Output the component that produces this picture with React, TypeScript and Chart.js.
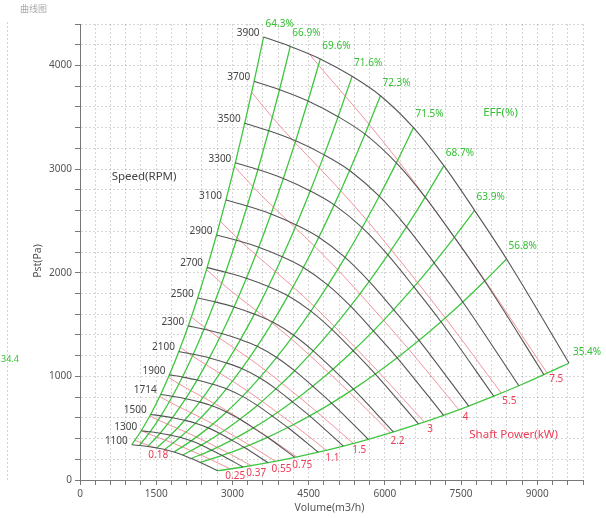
import React, { useEffect, useRef } from 'react';
import { Chart, registerables } from 'chart.js';

Chart.register(...registerables);

// ---- data ----
// fan speeds (rpm) of the drawn speed curves
const speeds = [1100, 1300, 1500, 1714, 1900, 2100, 2300, 2500, 2700, 2900, 3100, 3300, 3500, 3700, 3900];
const baseSpeed = 3900;
// 3900 rpm curve: volume (m3/h) and static pressure (Pa) where each efficiency line meets it
const baseVolume = [3613, 4139, 4730, 5355, 5913, 6563, 7161, 7766, 8396, 9624];
const basePressure = [4275, 4184, 4063, 3895, 3708, 3400, 3033, 2602, 2133, 1129];
const efficiencyLabels = ['64.3%', '66.9%', '69.6%', '71.6%', '72.3%', '71.5%', '68.7%', '63.9%', '56.8%', '35.4%'];
// shaft power (kW) at those 3900 rpm points
const baseShaftPower = [6.72, 7.19, 7.67, 8.09, 8.42, 8.67, 8.78, 8.78, 8.76, 8.6];
// constant shaft power lines (kW)
const shaftPowerLevels = [0.18, 0.25, 0.37, 0.55, 0.75, 1.1, 1.5, 2.2, 3, 4, 5.5, 7.5];
const shaftPowerLabels = ['0.18', '0.25', '0.37', '0.55', '0.75', '1.1', '1.5', '2.2', '3', '4', '5.5', '7.5'];
// axes
const xTickLabels = [0, 1500, 3000, 4500, 6000, 7500, 9000];
const yTickLabels = [0, 1000, 2000, 3000, 4000];
const xMinorStep = 300;
const yMinorStep = 200;
const xMax = 9900;
const yMax = 4400;

// ---- styles ----
const FONT = '"Noto Sans", "Open Sans", sans-serif';
const SPEED_COLOR = '#555555';
const GREEN = '#3fc63f';
const GREEN_TEXT = '#33c033';
const PINK = '#f2939d';
const RED_TEXT = '#ee3a55';
const powerLabelOffset: [number, number][] = [
  [-7, 7], [-5, 7], [-5, 8], [-4, 7.5], [-4.5, 8], [-1, 7.5], [-1, 7], [0, 8], [3, 7], [4, 7], [1, 8], [2, 6],
];

type P = { x: number; y: number };

// fan affinity: volume ~ n, pressure ~ n^2
const atScale = (i: number, s: number): P => ({ x: baseVolume[i] * s, y: basePressure[i] * s * s });

function speedCurve(n: number): P[] {
  const r = n / baseSpeed;
  return baseVolume.map((_, i) => atScale(i, r));
}

function effLine(i: number): P[] {
  return speeds.map((n) => atScale(i, n / baseSpeed));
}

function powerLine(w: number): P[] {
  const sMin = speeds[0] / baseSpeed;
  const pts: P[] = [];
  const s = baseShaftPower.map((pw) => Math.cbrt(w / pw));
  const inside = (v: number) => v >= sMin && v <= 1;
  for (let i = 0; i < s.length; i++) {
    if (inside(s[i])) pts.push(atScale(i, s[i]));
    if (i < s.length - 1) {
      const a = baseShaftPower[i], b = baseShaftPower[i + 1];
      // crossing of the top (3900 rpm) curve
      if ((s[i] > 1) !== (s[i + 1] > 1)) {
        const t = (w - a) / (b - a);
        pts.push({ x: baseVolume[i] + t * (baseVolume[i + 1] - baseVolume[i]), y: basePressure[i] + t * (basePressure[i + 1] - basePressure[i]) });
      }
      // crossing of the lowest speed curve
      if ((s[i] < sMin) !== (s[i + 1] < sMin)) {
        const k = sMin * sMin * sMin;
        const t = (w / k - a) / (b - a);
        pts.push({
          x: (baseVolume[i] + t * (baseVolume[i + 1] - baseVolume[i])) * sMin,
          y: (basePressure[i] + t * (basePressure[i + 1] - basePressure[i])) * sMin * sMin,
        });
      }
    }
  }
  return pts;
}

const range = (step: number, max: number) => {
  const out: { value: number }[] = [];
  for (let v = 0; v <= max + 1e-6; v += step) out.push({ value: v });
  return out;
};

const textPlugin = {
  id: 'fanText',
  afterDatasetsDraw(chart: any) {
    const ctx: CanvasRenderingContext2D = chart.ctx;
    const xs = chart.scales.x;
    const ys = chart.scales.y;
    const px = (p: P) => [xs.getPixelForValue(p.x), ys.getPixelForValue(p.y)];
    ctx.save();
    ctx.textBaseline = 'middle';

    // speed labels
    ctx.font = `10px ${FONT}`;
    ctx.fillStyle = '#444444';
    ctx.textAlign = 'right';
    speeds.forEach((n) => {
      const [x, y] = px(speedCurve(n)[0]);
      ctx.fillText(String(n), x - 4, y - 4);
    });

    // efficiency labels
    ctx.fillStyle = GREEN_TEXT;
    ctx.textAlign = 'left';
    efficiencyLabels.forEach((t, i) => {
      const [x, y] = px(atScale(i, 1));
      if (i === efficiencyLabels.length - 1) ctx.fillText(t, x + 4, y - 11);
      else ctx.fillText(t, x + 2, y - 13);
    });

    // shaft power labels
    ctx.fillStyle = RED_TEXT;
    shaftPowerLevels.forEach((w, i) => {
      const pts = powerLine(w);
      const [x, y] = px(pts[pts.length - 1]);
      const [dx, dy] = powerLabelOffset[i];
      ctx.fillText(shaftPowerLabels[i], x + dx, y + dy);
    });

    // group titles
    ctx.font = `11.5px ${FONT}`;
    ctx.textAlign = 'center';
    ctx.fillStyle = '#444444';
    ctx.fillText('Speed(RPM)', xs.getPixelForValue(1261), ys.getPixelForValue(2927));
    ctx.fillStyle = GREEN_TEXT;
    ctx.fillText('EFF(%)', xs.getPixelForValue(8278), ys.getPixelForValue(3545));
    ctx.fillStyle = RED_TEXT;
    ctx.fillText('Shaft Power(kW)', xs.getPixelForValue(8534), ys.getPixelForValue(437));
    ctx.restore();
  },
  afterDraw(chart: any) {
    const ctx: CanvasRenderingContext2D = chart.ctx;
    const area = chart.chartArea;
    ctx.save();
    ctx.fillStyle = '#555555';
    ctx.font = `10.5px ${FONT}`;
    ctx.textAlign = 'center';
    ctx.textBaseline = 'middle';
    ctx.fillText('Volume(m3/h)', (area.left + area.right) / 2 - 2, 508);
    ctx.translate(38, 261);
    ctx.rotate(-Math.PI / 2);
    ctx.fillText('Pst(Pa)', 0, 0);
    ctx.restore();

    // fragments at the left edge
    ctx.save();
    ctx.fillStyle = '#aaaaaa';
    ctx.font = `9px "Noto Sans CJK SC", ${FONT}`;
    ctx.textBaseline = 'middle';
    ctx.fillText('曲线图', 20, 9);
    ctx.fillStyle = GREEN_TEXT;
    ctx.font = `9px ${FONT}`;
    ctx.fillText('34.4', 1, 359);
    ctx.strokeStyle = 'rgba(0,0,0,0.18)';
    ctx.setLineDash([2, 2]);
    ctx.lineWidth = 1;
    ctx.beginPath();
    ctx.moveTo(7.5, 22);
    ctx.lineTo(7.5, 481);
    ctx.stroke();
    ctx.restore();
  },
};

export default function App() {
  const ref = useRef<HTMLCanvasElement | null>(null);

  useEffect(() => {
    if (!ref.current) return;
    const datasets: any[] = [];
    speeds.forEach((n) =>
      datasets.push({
        data: speedCurve(n),
        borderColor: SPEED_COLOR,
        borderWidth: 1.1,
        order: 1,
      })
    );
    efficiencyLabels.forEach((_, i) =>
      datasets.push({
        data: effLine(i),
        borderColor: GREEN,
        borderWidth: 1.3,
        order: 2,
      })
    );
    shaftPowerLevels.forEach((w) =>
      datasets.push({
        data: powerLine(w),
        borderColor: PINK,
        borderWidth: 1,
        order: 3,
      })
    );
    datasets.forEach((d) => {
      d.pointRadius = 0;
      d.fill = false;
      d.cubicInterpolationMode = 'monotone';
    });

    const gridOpts = {
      color: 'rgba(0,0,0,0.16)',
      tickBorderDash: [],
      tickColor: '#777777',
      tickLength: 5,
      lineWidth: 1,
    };
    const borderOpts = { display: true, color: '#777777', width: 1, dash: [2, 2] };

    const chart = new Chart(ref.current, {
      type: 'line',
      data: { datasets },
      plugins: [textPlugin],
      options: {
        animation: false,
        responsive: false,
        events: [],
        layout: { padding: { left: 0, right: 23, top: 24, bottom: 0 } },
        plugins: { legend: { display: false }, tooltip: { enabled: false } },
        scales: {
          x: {
            type: 'linear',
            min: 0,
            max: xMax,
            afterBuildTicks: (s: any) => {
              s.ticks = range(xMinorStep, xMax);
            },
            afterFit: (s: any) => {
              s.height = 38;
            },
            ticks: {
              autoSkip: false,
              maxRotation: 0,
              padding: 3,
              color: '#555555',
              font: { family: FONT, size: 10 },
              callback: (v: any) => (xTickLabels.includes(Number(v)) ? String(v) : ''),
            },
            grid: gridOpts,
            border: borderOpts,
          },
          y: {
            type: 'linear',
            min: 0,
            max: yMax,
            afterBuildTicks: (s: any) => {
              s.ticks = range(yMinorStep, yMax);
            },
            afterFit: (s: any) => {
              s.width = 80;
            },
            ticks: {
              autoSkip: false,
              padding: 3,
              color: '#555555',
              font: { family: FONT, size: 10 },
              callback: (v: any) => (yTickLabels.includes(Number(v)) ? String(v) : ''),
            },
            grid: gridOpts,
            border: borderOpts,
          },
        },
      } as any,
    });
    return () => chart.destroy();
  }, []);

  return (
    <div style={{ position: 'fixed', left: 0, top: 0, width: 606, height: 518, background: '#ffffff' }}>
      <canvas ref={ref} width={606} height={518} style={{ display: 'block' }} />
    </div>
  );
}
